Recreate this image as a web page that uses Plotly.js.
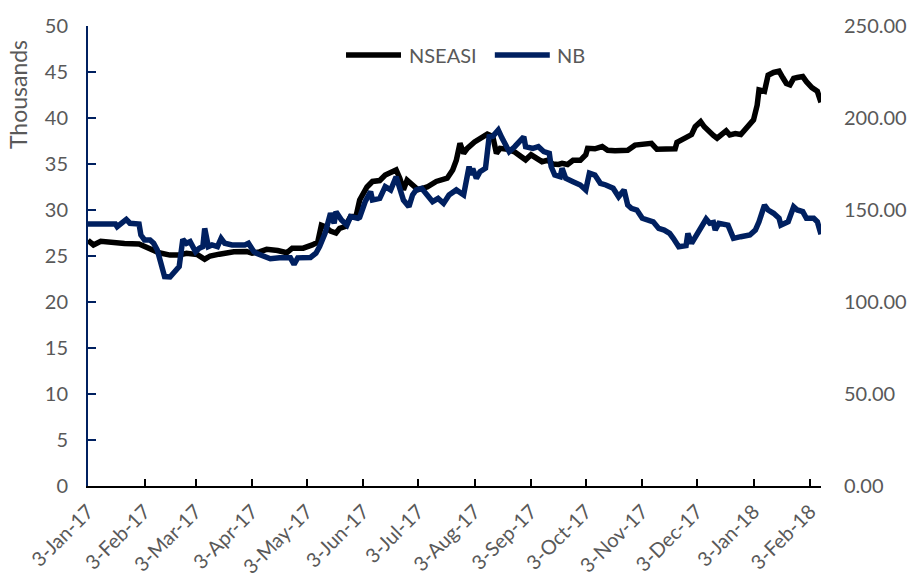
<!DOCTYPE html>
<html>
<head>
<meta charset="utf-8">
<script src="https://cdn.plot.ly/plotly-3.0.1.min.js"></script>
<style>
  html, body { margin: 0; padding: 0; background: #ffffff; }
  #chart { width: 912px; height: 578px; }
</style>
</head>
<body>
<div id="chart"></div>
<script>
// Series names
const seriesNames = ['NSEASI', 'NB'];
const seriesColors = ['#000000', '#002060'];

// NSEASI index level (points)
const nseasiDates = [
  '2017-01-03','2017-01-06','2017-01-10','2017-01-15','2017-01-23','2017-01-31','2017-02-04','2017-02-08',
  '2017-02-11','2017-02-17','2017-02-22','2017-02-26','2017-03-04','2017-03-08','2017-03-11','2017-03-16',
  '2017-03-24','2017-03-31','2017-04-03','2017-04-07','2017-04-11','2017-04-17','2017-04-22','2017-04-25',
  '2017-05-01','2017-05-06','2017-05-09','2017-05-11','2017-05-13','2017-05-16','2017-05-19','2017-05-21',
  '2017-05-24','2017-05-27','2017-05-30','2017-06-01','2017-06-05','2017-06-08','2017-06-12','2017-06-15',
  '2017-06-18','2017-06-21','2017-06-23','2017-06-25','2017-06-27','2017-06-30','2017-07-03','2017-07-08',
  '2017-07-13','2017-07-19','2017-07-22','2017-07-24','2017-07-26','2017-07-28','2017-07-30','2017-08-03',
  '2017-08-07','2017-08-10','2017-08-13','2017-08-15','2017-08-17','2017-08-21','2017-08-25','2017-08-29',
  '2017-08-31','2017-09-03','2017-09-07','2017-09-09','2017-09-12','2017-09-15','2017-09-18','2017-09-20',
  '2017-09-23','2017-09-26','2017-09-30','2017-10-03','2017-10-04','2017-10-08','2017-10-12','2017-10-15',
  '2017-10-19','2017-10-23','2017-10-26','2017-10-30','2017-11-04','2017-11-08','2017-11-11','2017-11-14',
  '2017-11-18','2017-11-21','2017-11-22','2017-11-27','2017-11-30','2017-12-02','2017-12-05','2017-12-07',
  '2017-12-10','2017-12-12','2017-12-14','2017-12-16','2017-12-19','2017-12-21','2017-12-24','2017-12-27',
  '2017-12-30','2018-01-03','2018-01-05','2018-01-06','2018-01-09','2018-01-11','2018-01-14','2018-01-17',
  '2018-01-19','2018-01-21','2018-01-23','2018-01-25','2018-01-27','2018-01-30','2018-02-01','2018-02-04',
  '2018-02-07','2018-02-09'
];
const nseasiValues = [
  26700,26200,26600,26450,26350,26300,26000,25700,
  25350,25100,25100,25300,25150,24650,25000,25200,
  25450,25500,25300,25450,25720,25600,25350,25850,
  25850,26200,26500,28350,28200,27700,27500,28000,
  28200,29300,29300,31100,32500,33100,33200,33800,
  34000,34350,33450,32200,33250,32700,32200,32500,
  33100,33450,34350,35400,37250,36150,36700,37400,
  37950,38250,38000,36150,36700,36600,36300,35800,
  35450,36000,35600,35250,35400,35000,34950,35070,
  34950,35400,35400,36000,36700,36650,36900,36500,
  36450,36500,36500,37050,37200,37250,36600,36650,
  36600,36650,37350,37800,38200,39050,39600,39050,
  38350,38100,37800,38150,38600,38150,38300,38200,
  38900,39800,41400,43050,42900,44650,44950,45100,
  44400,43750,43600,44300,44400,44500,43950,43300,
  42900,41700
];

// NB share price
const nbDates = [
  '2017-01-03','2017-01-12','2017-01-18','2017-01-19','2017-01-21','2017-01-24','2017-01-26','2017-01-31',
  '2017-02-01','2017-02-03','2017-02-06','2017-02-08','2017-02-10','2017-02-12','2017-02-14','2017-02-17',
  '2017-02-20','2017-02-22','2017-02-24','2017-02-26','2017-02-28','2017-03-03','2017-03-05','2017-03-07',
  '2017-03-08','2017-03-10','2017-03-12','2017-03-15','2017-03-17','2017-03-19','2017-03-23','2017-03-30',
  '2017-04-01','2017-04-04','2017-04-06','2017-04-10','2017-04-13','2017-04-18','2017-04-24','2017-04-26',
  '2017-04-28','2017-05-05','2017-05-08','2017-05-10','2017-05-13','2017-05-16','2017-05-18','2017-05-19',
  '2017-05-22','2017-05-25','2017-05-27','2017-05-31','2017-06-01','2017-06-04','2017-06-07','2017-06-08',
  '2017-06-12','2017-06-15','2017-06-18','2017-06-21','2017-06-23','2017-06-25','2017-06-28','2017-06-30',
  '2017-07-02','2017-07-05','2017-07-08','2017-07-11','2017-07-14','2017-07-17','2017-07-20','2017-07-24',
  '2017-07-28','2017-07-31','2017-08-01','2017-08-02','2017-08-04','2017-08-06','2017-08-09','2017-08-11',
  '2017-08-13','2017-08-16','2017-08-18','2017-08-20','2017-08-22','2017-08-25','2017-08-28','2017-08-30',
  '2017-08-31','2017-09-04','2017-09-07','2017-09-10','2017-09-13','2017-09-14','2017-09-16','2017-09-19',
  '2017-09-20','2017-09-22','2017-09-26','2017-09-30','2017-10-03','2017-10-05','2017-10-08','2017-10-11',
  '2017-10-14','2017-10-18','2017-10-21','2017-10-24','2017-10-26','2017-10-28','2017-10-31','2017-11-03',
  '2017-11-09','2017-11-12','2017-11-15','2017-11-18','2017-11-20','2017-11-23','2017-11-27','2017-11-28',
  '2017-11-30','2017-12-02','2017-12-05','2017-12-08','2017-12-10','2017-12-12','2017-12-13','2017-12-15',
  '2017-12-20','2017-12-23','2017-12-27','2018-01-01','2018-01-04','2018-01-06','2018-01-09','2018-01-11',
  '2018-01-14','2018-01-17','2018-01-18','2018-01-22','2018-01-25','2018-01-27','2018-01-30','2018-02-01',
  '2018-02-05','2018-02-07','2018-02-09'
];
const nbValues = [
  142.4,142.4,142.4,140.9,142.4,144.9,142.8,142.4,
  136.4,133.7,133.7,131.9,128.3,121.0,113.8,113.6,
  116.5,119.2,134.1,131.9,132.8,127.3,129.2,130.1,
  140.0,130.1,131.0,130.1,134.6,131.9,131.0,131.0,
  131.9,127.3,126.2,124.6,123.5,124.0,124.0,120.5,
  124.0,124.2,126.5,130.1,137.3,148.2,142.8,149.1,
  144.6,141.8,146.4,145.5,146.0,154.5,160.0,155.4,
  156.3,162.7,160.9,168.1,162.7,155.4,151.8,158.2,
  160.9,161.8,158.2,154.5,156.3,153.6,158.2,160.9,
  158.2,173.6,169.0,172.5,167.2,170.8,172.7,189.8,
  190.0,193.5,189.2,185.3,181.7,184.4,187.1,189.8,
  184.4,183.5,184.4,181.7,180.8,173.6,169.0,168.1,
  172.7,167.2,165.4,163.6,160.9,170.0,169.0,164.5,
  163.6,161.8,157.2,160.9,152.7,150.9,150.0,145.5,
  143.6,140.0,139.1,137.3,134.6,130.0,130.6,137.3,
  131.9,135.5,140.0,145.1,142.8,143.2,139.1,142.8,
  141.8,134.6,135.5,136.4,139.1,143.6,152.7,150.0,
  148.2,145.5,141.8,143.6,151.8,150.0,149.1,145.5,
  145.5,143.6,136.8
];

// Monthly tick positions and their labels
const tickDates = [
  '2017-01-03','2017-02-03','2017-03-03','2017-04-03','2017-05-03','2017-06-03','2017-07-03',
  '2017-08-03','2017-09-03','2017-10-03','2017-11-03','2017-12-03','2018-01-03','2018-02-03'
];
const tickLabels = [
  '3-Jan-17','3-Feb-17','3-Mar-17','3-Apr-17','3-May-17','3-Jun-17','3-Jul-17',
  '3-Aug-17','3-Sep-17','3-Oct-17','3-Nov-17','3-Dec-17','3-Jan-18','3-Feb-18'
];
const leftTicks = [0, 5, 10, 15, 20, 25, 30, 35, 40, 45, 50];
const rightTicks = [0, 50, 100, 150, 200, 250];

const FONT = 'Lato, "Noto Sans", sans-serif';
const GREY = '#595959';

const traces = [
  {
    x: nseasiDates,
    y: nseasiValues.map(v => v / 1000),
    name: seriesNames[0],
    type: 'scatter',
    mode: 'lines',
    line: { color: seriesColors[0], width: 5.5, shape: 'linear' },
    yaxis: 'y'
  },
  {
    x: nbDates,
    y: nbValues,
    name: seriesNames[1],
    type: 'scatter',
    mode: 'lines',
    line: { color: seriesColors[1], width: 5.5, shape: 'linear' },
    yaxis: 'y2'
  }
];

// Legend drawn as short line samples with labels
const legendShapes = [];
const legendNotes = [];
const legendX = [[0.352, 0.427, 0.435], [0.555, 0.630, 0.637]];
seriesNames.forEach((name, i) => {
  legendShapes.push({
    type: 'line', xref: 'paper', yref: 'paper',
    x0: legendX[i][0], x1: legendX[i][1], y0: 0.937, y1: 0.937,
    line: { color: seriesColors[i], width: 5.5 }
  });
  legendNotes.push({
    xref: 'paper', yref: 'paper', x: legendX[i][2], y: 0.937,
    xanchor: 'left', yanchor: 'middle', showarrow: false,
    text: name, font: { family: FONT, size: 20, color: GREY }
  });
});

const layout = {
  width: 912,
  height: 578,
  margin: { l: 88, r: 91, t: 26, b: 92, pad: 0 },
  paper_bgcolor: '#ffffff',
  plot_bgcolor: '#ffffff',
  showlegend: false,
  hovermode: false,
  font: { family: FONT, size: 20, color: GREY },
  xaxis: {
    type: 'date',
    range: ['2017-01-03', '2018-02-09'],
    tickmode: 'array',
    tickvals: tickDates,
    ticktext: tickLabels,
    tickangle: -45,
    ticks: 'inside',
    ticklen: 7,
    tickwidth: 2,
    tickcolor: '#000000',
    showline: true,
    linecolor: '#000000',
    linewidth: 2,
    showgrid: false,
    zeroline: false,
    ticklabelstandoff: 4,
    tickfont: { family: FONT, size: 20, color: GREY },
    fixedrange: true
  },
  yaxis: {
    range: [0, 50],
    tickmode: 'array',
    tickvals: leftTicks,
    ticks: 'inside',
    ticklen: 8,
    tickwidth: 2,
    tickcolor: '#002060',
    showline: true,
    linecolor: '#002060',
    linewidth: 2,
    showgrid: false,
    zeroline: false,
    ticklabelstandoff: 14,
    tickfont: { family: FONT, size: 20, color: GREY },
    fixedrange: true
  },
  yaxis2: {
    range: [0, 250],
    overlaying: 'y',
    side: 'right',
    tickmode: 'array',
    tickvals: rightTicks,
    tickformat: '.2f',
    ticks: '',
    showline: false,
    showgrid: false,
    zeroline: false,
    ticklabelstandoff: 22,
    tickfont: { family: FONT, size: 20, color: GREY },
    fixedrange: true
  },
  shapes: legendShapes,
  annotations: legendNotes.concat([{
    xref: 'paper', yref: 'paper', x: -0.0955, y: 0.852,
    xanchor: 'center', yanchor: 'middle', showarrow: false,
    textangle: -90, text: 'Thousands',
    font: { family: FONT, size: 23, color: GREY }
  }])
};

Plotly.newPlot('chart', traces, layout, { displayModeBar: false, staticPlot: true });
</script>
</body>
</html>
